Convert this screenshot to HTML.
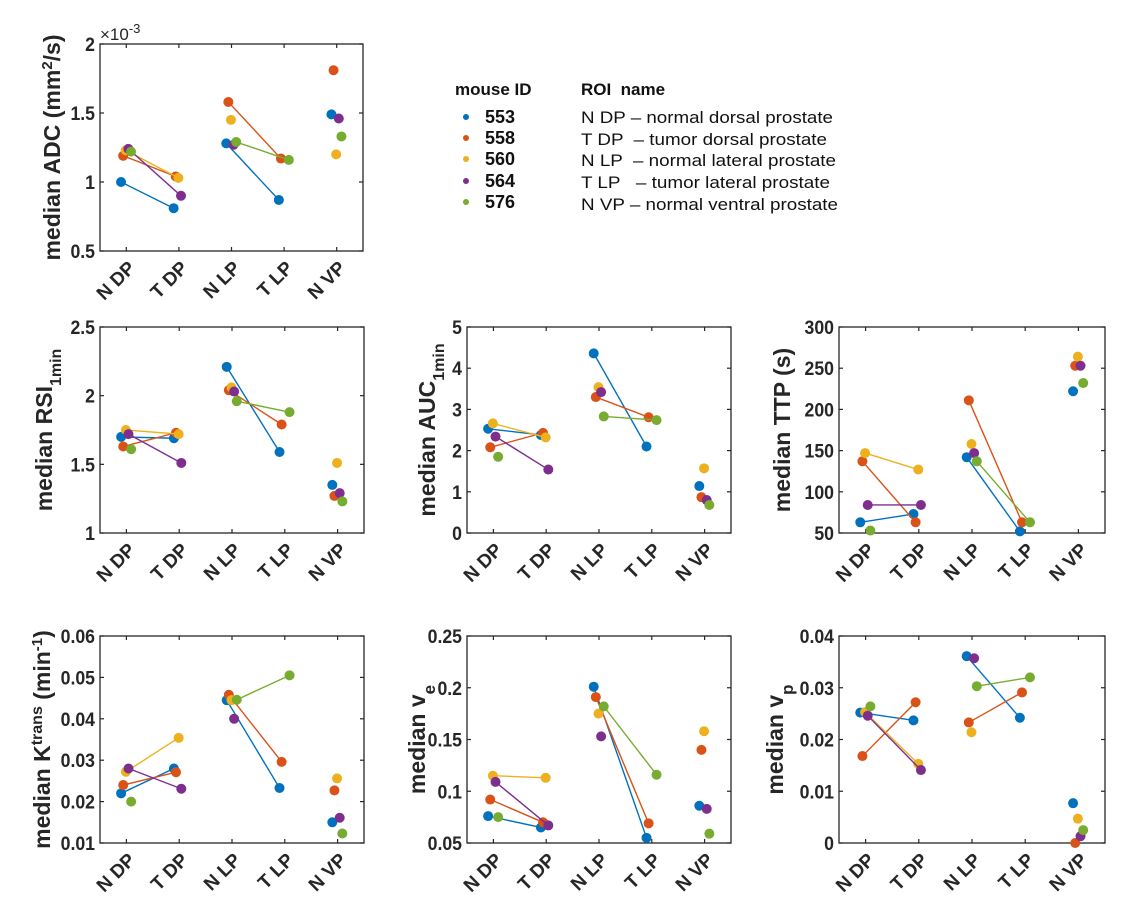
<!DOCTYPE html>
<html><head><meta charset="utf-8"><style>
body{margin:0;background:#fff;}
svg{display:block;font-family:"Liberation Sans",Arial,sans-serif;}
</style></head><body>
<svg id="fig" width="1125" height="918" viewBox="0 0 1125 918" xmlns="http://www.w3.org/2000/svg">
<g id="legend">
  <text x="455" y="95" font-size="17" font-weight="bold" fill="#111">mouse ID</text>
  <text x="581" y="95" font-size="17" font-weight="bold" fill="#111" xml:space="preserve">ROI  name</text>
  <circle cx="466" cy="117" r="3" fill="#0072BD"/>
  <circle cx="466" cy="138" r="3" fill="#D95319"/>
  <circle cx="466" cy="159" r="3" fill="#EDB120"/>
  <circle cx="466" cy="181" r="3" fill="#7E2F8E"/>
  <circle cx="466" cy="202" r="3" fill="#77AC30"/>
  <g font-size="18" font-weight="bold" fill="#111">
    <text x="485" y="123">553</text>
    <text x="485" y="144">558</text>
    <text x="485" y="165">560</text>
    <text x="485" y="187">564</text>
    <text x="485" y="208">576</text>
  </g>
  <g font-size="17" fill="#111">
    <text x="581" y="123" textLength="252" lengthAdjust="spacingAndGlyphs">N DP – normal dorsal prostate</text>
    <text x="581" y="145" textLength="246" lengthAdjust="spacingAndGlyphs" xml:space="preserve">T DP  – tumor dorsal prostate</text>
    <text x="581" y="166" textLength="255" lengthAdjust="spacingAndGlyphs" xml:space="preserve">N LP  – normal lateral prostate</text>
    <text x="581" y="188" textLength="249" lengthAdjust="spacingAndGlyphs" xml:space="preserve">T LP   – tumor lateral prostate</text>
    <text x="581" y="210" textLength="257" lengthAdjust="spacingAndGlyphs">N VP – normal ventral prostate</text>
  </g>
</g>
</svg>
<script>
const categories = ["N DP","T DP","N LP","T LP","N VP"];
const mice = ["553","558","560","564","576"];
const colors = ["#0072BD","#D95319","#EDB120","#7E2F8E","#77AC30"];
const jitter = [-0.1,-0.06,-0.01,0.04,0.09];
// values[mouse][category]; null = missing
const adcValues = [[1.0,0.81,1.28,0.87,1.49],[1.19,1.04,1.58,1.17,1.81],[1.23,1.03,1.45,null,1.20],[1.24,0.90,1.27,null,1.46],[1.22,null,1.29,1.16,1.33]];
const rsiValues = [[1.70,1.69,2.21,1.59,1.35],[1.63,1.73,2.04,1.79,1.27],[1.75,1.72,2.06,null,1.51],[1.72,1.51,2.03,null,1.29],[1.61,null,1.96,1.88,1.23]];
const aucValues = [[2.53,2.38,4.36,2.10,1.14],[2.08,2.43,3.30,2.81,0.87],[2.66,2.32,3.54,null,1.57],[2.34,1.54,3.42,null,0.80],[1.85,null,2.83,2.74,0.68]];
const ttpValues = [[63,73,142,52,222],[137,63,211,63,253],[147,127,158,null,264],[84,84,147,null,253],[53,null,137,63,232]];
const ktValues = [[0.0220,0.0280,0.0445,0.0233,0.0150],[0.0240,0.0271,0.0458,0.0296,0.0227],[0.0272,0.0354,0.0445,null,0.0256],[0.0280,0.0231,0.0400,null,0.0161],[0.0200,null,0.0446,0.0505,0.0123]];
const veValues = [[0.076,0.065,0.201,0.055,0.086],[0.092,0.070,0.191,0.069,0.140],[0.115,0.113,0.175,null,0.158],[0.109,0.067,0.153,null,0.083],[0.075,null,0.182,0.116,0.059]];
const vpValues = [[0.0252,0.0237,0.0361,0.0242,0.0077],[0.0168,0.0272,0.0233,0.0291,0.0],[0.0253,0.0153,0.0214,null,0.0047],[0.0246,0.0141,0.0357,null,0.0013],[0.0264,null,0.0303,0.0320,0.0025]];
const adcTicks = ["0.5","1","1.5","2"];
const rsiTicks = ["1","1.5","2","2.5"];
const aucTicks = ["0","1","2","3","4","5"];
const ttpTicks = ["50","100","150","200","250","300"];
const ktTicks = ["0.01","0.02","0.03","0.04","0.05","0.06"];
const veTicks = ["0.05","0.1","0.15","0.2","0.25"];
const vpTicks = ["0","0.01","0.02","0.03","0.04"];

const NS="http://www.w3.org/2000/svg";
const svg=document.getElementById('fig');
function mk(tag,attrs,parent){const e=document.createElementNS(NS,tag);for(const k in attrs)e.setAttribute(k,attrs[k]);(parent||svg).appendChild(e);return e;}

const panels=[
 {id:"adc",vals:adcValues,ticks:adcTicks,ymin:0.5,ymax:2,box:[100,44,363,251],title:'median ADC (mm<tspan baseline-shift="super" font-size="15">2</tspan>/s)',toff:40},
 {id:"rsi",vals:rsiValues,ticks:rsiTicks,ymin:1,ymax:2.5,box:[100,327,364,533],title:'median RSI<tspan baseline-shift="sub" font-size="16">1min</tspan>',toff:48},
 {id:"auc",vals:aucValues,ticks:aucTicks,ymin:0,ymax:5,box:[467,327,731,533],title:'median AUC<tspan baseline-shift="sub" font-size="16">1min</tspan>',toff:32},
 {id:"ttp",vals:ttpValues,ticks:ttpTicks,ymin:50,ymax:300,box:[839,327,1105,533],title:'median TTP (s)',toff:49},
 {id:"ktrans",vals:ktValues,ticks:ktTicks,ymin:0.01,ymax:0.06,box:[100,636,364,843],title:'median K<tspan baseline-shift="super" font-size="16">trans</tspan> (min<tspan baseline-shift="super" font-size="15">-1</tspan>)',toff:50},
 {id:"ve",vals:veValues,ticks:veTicks,ymin:0.05,ymax:0.25,box:[467,636,731,843],title:'median v<tspan baseline-shift="sub" font-size="17">e</tspan>',toff:42},
 {id:"vp",vals:vpValues,ticks:vpTicks,ymin:0,ymax:0.04,box:[839,636,1105,843],title:'median v<tspan baseline-shift="sub" font-size="17">p</tspan>',toff:56}
];

panels.forEach(p=>{
  const [x0,y0,x1,y1]=p.box;
  const g=mk('g',{});
  
  
  const xs=i=>x0+(i+0.5)*(x1-x0)/categories.length;
  const ys=v=>y1-(v-p.ymin)/(p.ymax-p.ymin)*(y1-y0);
  const box=mk('rect',{x:x0,y:y0,width:x1-x0,height:y1-y0,fill:'none',stroke:'#262626','stroke-width':1.3},g);
  
  
  p.ticks.forEach(t=>{
    const y=ys(parseFloat(t));
    mk('line',{x1:x0,x2:x0+4,y1:y,y2:y,stroke:'#262626','stroke-width':1.2},g);
    mk('line',{x1:x1,x2:x1-4,y1:y,y2:y,stroke:'#262626','stroke-width':1.2},g);
    const tl=mk('text',{x:0,y:0,'text-anchor':'end','font-size':19,'font-weight':'bold',fill:'#262626',transform:`translate(${x0-5} ${y+7}) scale(0.93 1)`},g);
    
    
    tl.textContent=t;
  });
  categories.forEach((c,i)=>{
    const x=xs(i);
    mk('line',{x1:x,x2:x,y1:y1,y2:y1-4,stroke:'#262626','stroke-width':1.2},g);
    mk('line',{x1:x,x2:x,y1:y0,y2:y0+4,stroke:'#262626','stroke-width':1.2},g);
    const ax=x+10, ay=y1+18;
    const tl=mk('text',{x:ax,y:ay,'text-anchor':'end','font-size':19,'font-weight':'bold',fill:'#262626',transform:`rotate(-45 ${ax} ${ay})`},g);
    
    
    tl.textContent=c;
  });
  const tx=x0-p.toff, ty=(y0+y1)/2;
  const tt=mk('text',{x:tx,y:ty,'text-anchor':'middle','font-size':23,'font-weight':'bold',fill:'#262626',transform:`rotate(-90 ${tx} ${ty})`},g);
  
  
  tt.innerHTML=p.title;
  p.vals.forEach((row,m)=>{
    const sg=mk('g',{},g);
    
    
    [[0,1],[2,3]].forEach(([a,b])=>{
      if(row[a]!=null&&row[b]!=null){
        const ln=mk('line',{x1:xs(a+jitter[m]),y1:ys(row[a]),x2:xs(b+jitter[m]),y2:ys(row[b]),stroke:colors[m],'stroke-width':1.4},sg);
        
        
      }
    });
    row.forEach((v,i)=>{
      if(v==null)return;
      const pt=mk('circle',{cx:xs(i+jitter[m]),cy:ys(v),r:5,fill:colors[m]},sg);
      
      
    });
  });
  if(p.id==='adc'){
    const ex=mk('text',{x:x0,y:y0-4,'font-size':17,fill:'#262626'},g);
    
    
    ex.innerHTML='×10<tspan baseline-shift="super" font-size="13">-3</tspan>';
  }
});
</script>
</body></html>
